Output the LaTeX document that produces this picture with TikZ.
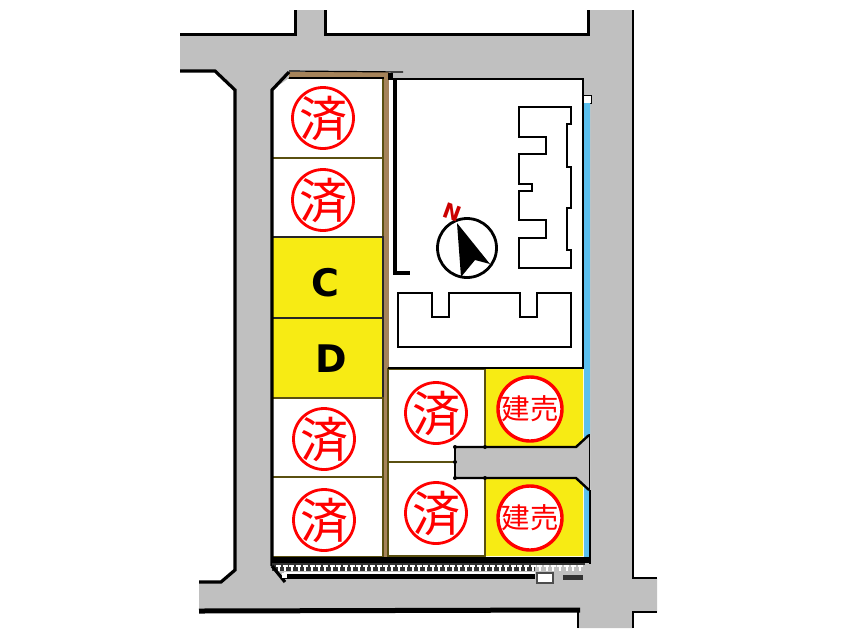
\documentclass[tikz,border=0pt]{standalone}
\usepackage{fontspec}
\usepackage{tikz}
\newfontfamily\jpfont{Noto Sans CJK JP}
\newfontfamily\letterfont{DejaVu Sans}[BoldFont={DejaVu Sans Bold}]
\definecolor{road}{HTML}{C0C0C0}
\definecolor{lotyellow}{HTML}{F7EB14}
\definecolor{fencebrown}{HTML}{A5835A}
\definecolor{canalblue}{HTML}{5BC0EE}
\definecolor{lotline}{HTML}{5A5010}
\newcommand{\whitelot}[4]{\filldraw[fill=white, draw=lotline, line width=1.4pt] (#1,#2) rectangle (#3,#4);}
\newcommand{\yellowlot}[4]{\filldraw[fill=lotyellow, draw=black!85, line width=1.4pt] (#1,#2) rectangle (#3,#4);}
\newcommand{\stamptext}[1]{\smash{\makebox[0pt]{\raisebox{-0.38em}{#1}}}}
\newcommand{\soldstamp}[3]{\node[circle, draw=red, fill=white, line width=2.8pt, minimum size=61pt, inner sep=0pt, text=red, font=\jpfont\fontsize{48}{48}\selectfont] (#1) at (#2,#3) {\stamptext{済}};}
\newcommand{\salestamp}[3]{\node[circle, draw=red, fill=white, line width=3.4pt, minimum size=64pt, inner sep=0pt, text=red, font=\jpfont\fontsize{28.5}{29}\selectfont] (#1) at (#2,#3) {\stamptext{建売}};}
\newcommand{\lotdot}[2]{\fill[black] (#1,#2) circle (2);}

\begin{document}
\begin{tikzpicture}[x=1pt, y=-1pt, line join=miter]
    \useasboundingbox (0,0) rectangle (850,638);
    \fill[road] (180,34) -- (295,34) -- (295,10) -- (325,10) -- (325,34) -- (588,34) -- (588,10) -- (633,10) -- (633,578) -- (657,578) -- (657,612) -- (633,612) -- (633,628) -- (578,628) -- (578,610) -- (199,612) -- (199,582) -- (221,582) -- (235,570) -- (235,90) -- (215,71) -- (180,71) -- cycle;
    \draw[line width=3pt] (180,34) -- (295,34) -- (295,10);
    \draw[line width=3pt] (325,10) -- (325,34) -- (588,34) -- (588,10);
    \draw[line width=2.6pt] (633,10) -- (633,578) -- (657,578);
    \draw[line width=2.6pt] (657,612) -- (633,612) -- (633,628);
    \draw[line width=2.8pt] (578,628) -- (578,610);
    \draw[line width=5pt] (199,611) -- (580,610);
    \draw[line width=3.2pt] (199,582) -- (221,582) -- (235,570) -- (235,90) -- (215,71) -- (180,71);

    \fill[white] (272,90) -- (289,78) -- (583,79) -- (583,96) -- (590,96) -- (590,558) -- (272,558) -- cycle;

    \whitelot{272}{78}{383}{158}
    \whitelot{272}{158}{383}{237}
    \yellowlot{272}{237}{383}{318}
    \yellowlot{272}{318}{383}{398}
    \whitelot{272}{398}{383}{477}
    \whitelot{272}{477}{383}{557}
    \fill[road] (270,70) -- (289,70) -- (289,78) -- (272,90) -- (270,90) -- cycle;

    \fill[fencebrown] (289,72) rectangle (388,77);
    \fill[fencebrown] (384,72) rectangle (388.5,557);
    \draw[line width=1.2pt] (289,71) -- (403,72);
    \draw[line width=1.8pt] (289,78) -- (384,78);
    \fill[black] (388,73) rectangle (393,80);
    \draw[line width=3.2pt] (272,566) -- (272,90) -- (289,72);
    \draw[line width=2.4pt] (390,79) -- (583,79) -- (583,96);
    \draw[line width=3.6pt] (395,80) -- (395,273) -- (410,273);

    \whitelot{388}{369}{485}{462}
    \whitelot{388}{462}{485}{556}
    \fill[lotyellow] (485,369) -- (583,369) -- (583,440) -- (576,447) -- (485,447) -- cycle;
    \fill[lotyellow] (485,478) -- (576,478) -- (583,485) -- (583,556) -- (485,556) -- cycle;
    \draw[lotline, line width=1.4pt] (485,369) -- (485,447);
    \draw[lotline, line width=1.4pt] (485,478) -- (485,556);
    \filldraw[fill=white, draw=black, line width=1pt] (583.5,95) rectangle (591,103);
    \fill[canalblue] (584,103) -- (590,103) -- (590,434) -- (584,440) -- cycle;
    \fill[canalblue] (584,484) -- (590,490) -- (590,558) -- (584,558) -- cycle;
    \fill[road] (455,447) -- (576,447) -- (590,434) -- (590,490) -- (576,478) -- (455,478) -- cycle;
    \draw[line width=2pt] (388,368) -- (583,368);
    \draw[line width=1.8pt] (583,96) -- (583,369);
    \draw[line width=2.4pt] (455,447) -- (576,447) -- (589,435);
    \draw[line width=2.4pt] (455,478) -- (576,478) -- (589,490);
    \draw[line width=1.8pt] (455,447) -- (455,478);
    \draw[line width=1pt] (589.5,434) -- (589.5,490);
    \draw[line width=1.6pt] (590,490) -- (590,564);
    \lotdot{455}{447}
    \lotdot{455}{462}
    \lotdot{455}{478}
    \lotdot{485}{447}
    \lotdot{485}{478}

    \draw[line width=2.5pt] (519,107) -- (571,107) -- (571,124) -- (567,124) -- (567,167) -- (571,167) -- (571,208) -- (567,208) -- (567,250) -- (571,250) -- (571,268) -- (519,268) -- (519,238) -- (546,238) -- (546,220) -- (519,220) -- (519,191) -- (532,191) -- (532,184) -- (519,184) -- (519,154) -- (546,154) -- (546,137) -- (519,137) -- cycle;
    \draw[line width=2.5pt] (398,293) -- (432,293) -- (432,317) -- (449,317) -- (449,293) -- (520,293) -- (520,317) -- (537,317) -- (537,293) -- (571,293) -- (571,347) -- (398,347) -- cycle;

    \draw[line width=2.8pt] (467,248) circle (29.5);
    \fill[black] (457,223) -- (490,264) -- (475,260) -- (461,277) -- cycle;
    \node[inner sep=0pt, text=red!80!black, rotate=-20, font=\letterfont\bfseries\fontsize{21}{21}\selectfont] (north) at (452,212) {N};

    \fill[black] (271,557) rectangle (591,563);
    \fill[black!80] (272,563) rectangle (535,571);
    \fill[black!80] (535,563) rectangle (585,565);
    \foreach \tick in {276,282.7,...,580} {
        \fill[white] (\tick,564.5) rectangle (\tick+5,567);
        \fill[white] (\tick+1.5,566.5) rectangle (\tick+3.5,571);
    }
    \fill[white] (284,571.5) rectangle (535,574);
    \fill[black] (284,574) rectangle (535,579);
    \draw[line width=3.2pt] (272,566) -- (285,582);
    \filldraw[fill=white, draw=black!70, line width=1.4pt] (537,573) rectangle (553,583);
    \fill[black!80] (563,574.5) rectangle (583,580);
    \fill[white] (282,573) rectangle (287,578);

    \soldstamp{lotone}{323}{118}
    \soldstamp{lottwo}{323}{200}
    \soldstamp{lotfive}{324}{439}
    \soldstamp{lotsix}{324}{520}
    \soldstamp{lotseven}{436}{413}
    \soldstamp{loteight}{436}{513}
    \salestamp{saleone}{530}{409}
    \salestamp{saletwo}{530}{518}
    \node[inner sep=0pt, font=\letterfont\bfseries\fontsize{38}{38}\selectfont, text=black] (lotC) at (325,283) {C};
    \node[inner sep=0pt, font=\letterfont\bfseries\fontsize{38}{38}\selectfont, text=black] (lotD) at (331,359) {D};
\end{tikzpicture}
\end{document}
